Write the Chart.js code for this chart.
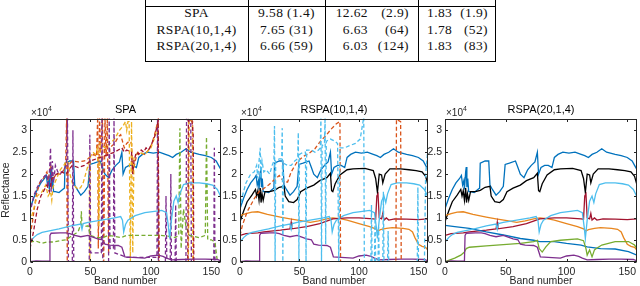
<!DOCTYPE html>
<html><head><meta charset="utf-8">
<script src="https://cdn.jsdelivr.net/npm/chart.js@4.4.0/dist/chart.umd.min.js"></script>
<style>
html,body{margin:0;padding:0;width:640px;height:286px;overflow:hidden;background:#fff;}
.tbl{position:absolute;font-family:'Liberation Serif','Times New Roman',serif;font-size:13.5px;letter-spacing:0.4px;color:#111;white-space:nowrap;line-height:16px;}
.hl{position:absolute;height:1px;background:#000;}
.vl{position:absolute;width:1px;background:#000;}
.ttl{position:absolute;font-family:'Liberation Sans',Arial,sans-serif;font-size:11px;line-height:14px;color:#000;text-align:center;white-space:nowrap;}
.exp{position:absolute;font-family:'Liberation Sans',Arial,sans-serif;font-size:10px;line-height:12px;color:#262626;white-space:nowrap;}
.exp sup{font-size:7px;position:relative;top:-1px;}
canvas{position:absolute;}
</style></head><body>
<div id="table"></div>
<canvas id="c1"></canvas><canvas id="c2"></canvas><canvas id="c3"></canvas>
<div id="titles"></div>
<script>
// ---------- table data ----------
const methods = ['SPA', 'RSPA(10,1,4)', 'RSPA(20,1,4)'];
const col1Val = ['9.58', '7.65', '6.66'];
const col1Par = ['(1.4)', '(31)', '(59)'];
const col2Val = ['12.62', '6.63', '6.03'];
const col2Par = ['(2.9)', '(64)', '(124)'];
const col3Val = ['1.83', '1.78', '1.83'];
const col3Par = ['(1.9)', '(52)', '(83)'];

// ---------- chart data (band number, reflectance x 10^4) ----------
const plotTitles = ['SPA', 'RSPA(10,1,4)', 'RSPA(20,1,4)'];
const xTicks = [0, 50, 100, 150];
const yTicks = [0, 0.5, 1, 1.5, 2, 2.5, 3];
const yTickLabels = ['0', '0.5', '1', '1.5', '2', '2.5', '3'];
const xAxisTitle = 'Band number';
const yAxisTitle = 'Reflectance';

const trueBlue = [[0,1.21],[3,1.45],[6,1.65],[9,1.8],[12,1.9],[13.5,1.97],[14.5,1.75],[15.5,1.85],[16,1.65],[17,2.05],[17.5,2.16],[18,1.7],[18.7,1.9],[19.5,1.6],[21,1.6],[24,1.58],[27,1.65],[28.5,1.68],[29,2.25],[33,2.3],[36,2.3],[37,1.75],[39,1.65],[42,1.52],[45,1.6],[48,1.72],[49.5,2.22],[53,2.25],[58,2.3],[60,2.15],[62,2.0],[65,1.92],[68,2.1],[71,2.2],[74,2.28],[76,2.5],[77,2.0],[79,2.15],[82,2.2],[85,2.2],[88,2.15],[90,2.38],[93,2.45],[97,2.5],[102,2.48],[107,2.5],[112,2.45],[115,2.42],[118,2.38],[121,2.45],[125,2.5],[129,2.58],[133,2.5],[140,2.45],[145,2.42],[150,2.38],[154,2.3],[156,2.2],[158,2.1]];
const trueBlack = [[0,0.91],[3,1.15],[6,1.37],[10,1.52],[13,1.65],[14,1.5],[15,1.62],[16,1.4],[17,1.68],[17.7,1.35],[18.5,1.55],[19.5,1.4],[21,1.6],[25,1.6],[29,1.63],[33,1.7],[37,1.72],[38,1.5],[41,1.37],[45,1.35],[48,1.42],[51,1.6],[56,1.68],[62,1.75],[67,1.85],[73,1.92],[76,2.02],[77,1.62],[78,1.6],[80,1.78],[84,1.98],[90,2.1],[95,2.12],[105,2.13],[112,2.08],[114,1.9],[115.5,1.58],[117,2.0],[119,1.98],[120,1.8],[122,2.0],[126,2.12],[135,2.12],[142,2.1],[148,2.08],[153,2.05],[156,1.95],[158,1.75]];
const trueLightBlue = [[0,0.45],[3,0.55],[6,0.62],[10,0.67],[15,0.7],[24,0.75],[34,0.82],[42,0.86],[43,0.74],[44,0.87],[48,0.9],[59,0.95],[70,1.0],[75,1.03],[76.5,0.95],[77.5,0.68],[79,0.85],[81,0.95],[87,1.05],[95,1.12],[103,1.15],[109,1.17],[113,1.12],[114.5,0.8],[115.5,0.53],[117,0.95],[119,1.38],[121,1.5],[122.5,1.35],[124,1.55],[127,1.76],[132,1.8],[140,1.8],[146,1.78],[151,1.75],[155,1.65],[158,1.48]];
const trueOrange = [[0,1.05],[5,1.1],[10,1.13],[15,1.14],[23,1.08],[34,1.02],[42,0.98],[51,0.94],[59,0.9],[66,0.93],[73,0.98],[78,1.0],[85,0.98],[90,0.95],[100,0.87],[109,0.8],[114,0.75],[116,0.7],[118,0.73],[123,0.76],[128,0.78],[137,0.76],[142,0.74],[145,0.68],[147,0.55],[150,0.4],[153,0.35],[156,0.33],[158,0.26]];
const trueDarkRed = [[0,0.6],[5,0.64],[15,0.66],[20,0.68],[34,0.72],[42,0.75],[43,0.9],[43.5,0.75],[56,0.8],[67,0.87],[74,0.94],[78,0.98],[90,1.0],[100,1.0],[112,0.98],[114,0.97],[115,1.5],[116,1.55],[117,1.0],[119,0.98],[120,1.1],[121,0.95],[123,1.0],[125,0.95],[130,0.98],[140,0.97],[150,0.96],[158,0.98]];
const truePurple = [[0,0.0],[5,0.02],[10,0.01],[16,0.02],[16.5,0.6],[17.5,0.65],[25,0.66],[30,0.66],[33,0.64],[37,0.6],[42,0.57],[48,0.6],[52,0.56],[56,0.52],[60,0.5],[62,0.4],[66,0.38],[73,0.37],[76,0.33],[77.5,0.2],[78.5,0.11],[85,0.1],[95,0.08],[100,0.13],[106,0.15],[110,0.12],[113,0.08],[117,0.04],[125,0.05],[135,0.06],[145,0.06],[155,0.05],[158,0.02]];

// SPA estimates (dashed)
const spaOrange = [[0,0.6],[2,0.9],[5,1.5],[8,1.8],[11,1.9],[14,2.05],[15,1.85],[17,2.2],[19,1.9],[22,2.0],[26,2.0],[28,2.1],[29.5,2.2],[30.3,3.3],[30.8,0],[31.5,2.2],[35,2.3],[40,2.28],[45,2.3],[48,2.35],[50,2.4],[53,2.45],[55,2.4],[56,3.3],[56.5,0.3],[57.5,3.3],[58.5,2.5],[60,3.3],[61,0],[62,3.3],[63,2.4],[64,3.3],[65,0.2],[66,2.6],[70,2.7],[73,2.85],[75,2.9],[78,2.6],[80,2.7],[82,2.75],[84,2.7],[85,2.0],[87,2.3],[89,2.5],[92,2.48],[95,2.45],[98,2.55],[101,2.7],[104,3.0],[106,3.25],[106.5,0],[131,0],[131.5,3.25],[134.5,3.2],[135,0],[158,0]];
const spaYellow = [[0,0.9],[3,1.2],[6,1.5],[10,1.6],[13,1.75],[15,1.5],[17,1.6],[18,1.4],[19,1.7],[22,1.9],[25,2.1],[28,2.2],[30,2.3],[32,2.25],[33,2.0],[35,1.8],[38,1.7],[40,1.65],[42,1.7],[44,1.8],[46,2.0],[48,2.2],[49,2.3],[49.5,0],[50,2.4],[52,2.5],[54,2.45],[56,2.6],[57,0.8],[58,2.7],[62,2.6],[66,2.7],[70,2.8],[74,3.0],[77,3.1],[79,3.2],[80,3.0],[81,3.2],[82,3.2],[83,0],[84,3.2],[85,0.2],[86,2.4],[88,2.45],[90,2.5],[95,2.45],[100,2.6],[104,2.9],[106,3.15],[106.5,0],[131,0],[131.3,3.25],[134.3,3.2],[134.8,0],[158,0]];
const spaPurple = [[0,1.1],[3,1.5],[6,1.7],[9,1.85],[12,1.95],[14,2.0],[15,1.7],[16,2.0],[17,2.6],[17.5,1.6],[18.5,2.3],[19.5,1.8],[21,2.2],[23,2.05],[25,2.0],[28,2.1],[30,2.2],[31,3.3],[31.8,0],[35,0],[35.5,3.0],[36.2,0],[49,0],[49.5,2.9],[50.2,0.2],[59,0.2],[59.5,3.3],[60.2,0],[65,0],[65.5,3.3],[66.2,0.3],[69,0.3],[69.5,3.3],[70.2,0.2],[80,0.1],[105,0.1],[105.5,3.25],[106.2,0],[112,0],[112.5,1.5],[113.2,0],[116,0],[116.5,2.0],[117,0],[120,0],[120.5,1.3],[121,0],[129,0],[129.5,3.25],[133,3.2],[133.5,0],[152,0],[152.5,2.6],[153,0],[158,0]];
const spaGreen = [[0,0.45],[5,0.47],[10,0.42],[14,0.45],[20,0.45],[25,0.48],[30,0.5],[34,0.58],[38,0.65],[40,0.7],[42,0.85],[42.5,1.15],[43,0.8],[45,0.8],[48,0.82],[50,0.6],[55,0.55],[60,0.55],[65,0.6],[70,0.58],[75,0.55],[80,0.6],[85,0.6],[95,0.6],[108,0.6],[115,0.58],[120,0.55],[123,0.6],[124,3.05],[125,0.3],[127,1.2],[129,0.8],[132,0.6],[140,0.55],[145,0.6],[146,2.85],[147,0.5],[150,0.5],[153,0.45],[155,0],[158,0]];
const spaDarkRed = [[0,0.3],[3,0.7],[6,1.2],[9,1.5],[12,1.65],[14,1.75],[16,1.6],[18,1.9],[20,1.95],[22,2.0],[26,2.05],[30,2.0],[32,2.1],[35,2.2],[40,2.15],[45,2.2],[50,2.3],[55,2.35],[60,2.4],[65,2.45],[70,2.5],[73,2.55],[76,2.6],[78,2.5],[80,2.55],[84,2.5],[85,2.0],[86,2.3],[88,2.5],[90,2.45],[92,2.55],[94,2.5],[96,2.6],[98,2.55],[100,2.65],[103,2.85],[106,3.2],[106.8,0],[130.5,0],[131,3.25],[134,3.22],[135,2.9],[135.5,0],[158,0]];

// RSPA(10,1,4) estimates (dashed)
const rspa10LightBlue = [[0,1.2],[2,1.5],[5,1.8],[9,2.0],[12,2.05],[14,2.2],[15,1.9],[16,2.3],[17,2.6],[17.5,1.9],[18.5,2.3],[20,2.05],[22,2.1],[25,2.0],[27,2.2],[28.5,2.3],[29,3.1],[29.5,0],[30,2.3],[33,2.35],[35,2.35],[35.5,3.05],[36,0],[36.5,2.25],[40,2.2],[43,2.2],[46,2.3],[48.5,2.35],[49,2.95],[49.5,0],[50,2.45],[53,2.5],[55,2.5],[55.5,0],[56,2.55],[60,2.55],[63,2.5],[66,2.55],[67.5,2.6],[68,3.3],[68.5,0],[69,2.65],[71,2.7],[71.5,3.3],[72,0.4],[72.5,2.75],[76,2.8],[80,2.75],[82,2.7],[83,0],[84,2.6],[88,2.6],[92,2.65],[97,2.7],[101,2.8],[104,3.3],[104.5,0],[110,0],[110.5,1.3],[111,0],[113,0],[113.5,1.0],[114,0],[116,0],[116.5,0.8],[117,0],[120,0],[120.5,1.6],[121,0],[124,0],[124.5,0.7],[125,0],[149,0],[149.5,1.7],[150,0],[155,0],[156,2.0],[158,2.6]];
const rspa10Orange = [[0,0.6],[2,0.83],[6,1.14],[12,1.44],[16,1.6],[24,1.75],[30,1.9],[33,1.97],[37,1.82],[40,1.82],[43,2.05],[48,2.28],[53,2.4],[58,2.47],[63,2.58],[67,2.73],[72.5,2.89],[77,3.04],[81,3.15],[84,3.2],[84.5,0],[131,0],[131.5,3.25],[135,3.2],[135.5,0],[158,0]];

// RSPA(20,1,4) estimates
const rspa20Blue = [[0,0.83],[8,0.8],[20,0.76],[34,0.68],[48,0.61],[62,0.53],[73,0.49],[78,0.46],[90,0.46],[100,0.42],[112,0.38],[117,0.34],[128,0.3],[140,0.29],[151,0.23],[158,0.15]];
const rspa20Green = [[0,0],[3,0.03],[8,0.08],[13,0.15],[16,0.22],[17.5,0.3],[20,0.33],[34,0.36],[48,0.39],[62,0.42],[73,0.46],[76,0.49],[77.5,0.3],[80,0.22],[83,0.34],[87,0.46],[95,0.49],[109,0.52],[114,0.48],[116,0.3],[117,0.15],[119,0.27],[121,0.11],[123,0.27],[124.5,0.3],[129,0.38],[140,0.46],[151,0.46],[156,0.38],[158,0.3]];

// ---------- colours ----------
const C = {blue:'#0072BD', orange:'#D95319', lightOrange:'#E8861E', yellow:'#EDB120', purple:'#7E2F8E', green:'#77AC30', lightBlue:'#4DBEEE', darkRed:'#A2142F', black:'#000000'};

// ---------- table ----------
(function(){
  const t = document.getElementById('table');
  const rowTop = [5, 21.5, 37.5];
  let h = '';
  methods.forEach((m,i)=>{
    const top = rowTop[i];
    h += `<div class="tbl" style="left:145px;width:103px;text-align:center;top:${top}px">${m}</div>`;
    h += `<div class="tbl" style="left:248px;width:77px;text-align:center;top:${top}px">${col1Val[i]} ${col1Par[i]}</div>`;
    h += `<div class="tbl" style="left:325px;width:43px;text-align:right;top:${top}px">${col2Val[i]}</div>`;
    h += `<div class="tbl" style="left:368px;width:41px;text-align:right;top:${top}px">${col2Par[i]}</div>`;
    h += `<div class="tbl" style="left:427px;top:${top}px">${col3Val[i]}</div>`;
    h += `<div class="tbl" style="left:448px;width:40px;text-align:right;top:${top}px">${col3Par[i]}</div>`;
  });
  h += '<div class="hl" style="left:145px;width:351px;top:6px"></div>';
  h += '<div class="hl" style="left:145px;width:351px;top:61px"></div>';
  [145,248,325,418,495].forEach(x=>{ h += `<div class="vl" style="left:${x}px;top:0;height:62px"></div>`; });
  t.innerHTML = h;
})();

// ---------- charts ----------
Chart.defaults.font.family = "'Liberation Sans', Arial, sans-serif";
Chart.defaults.font.size = 10.5;
Chart.defaults.color = '#262626';

const X_MAX = 158, Y_MAX = 3.27;
const CANVAS_TOP = 98, CANVAS_H = 192, YW = 30, PAD_R = 4;
const AREA_TOP = 118.5, AREA_BOTTOM = 261.7;

const framePlugin = {
  id: 'frame',
  afterDatasetsDraw(c) {
    const {ctx, chartArea: a, scales: {x, y}} = c;
    ctx.save();
    ctx.strokeStyle = '#262626';
    ctx.lineWidth = 1;
    const L = Math.round(a.left) + 0.5, R = Math.round(a.right) - 0.5, T = Math.round(a.top) + 0.5, B = Math.round(a.bottom) - 0.5;
    ctx.strokeRect(L, T, R - L, B - T);
    ctx.beginPath();
    xTicks.forEach(v => { const p = Math.round(x.getPixelForValue(v)) + 0.5; ctx.moveTo(p, B); ctx.lineTo(p, B - 2.5); ctx.moveTo(p, T); ctx.lineTo(p, T + 2.5); });
    yTicks.forEach(v => { const p = Math.round(y.getPixelForValue(v)) + 0.5; ctx.moveTo(L, p); ctx.lineTo(L + 2.5, p); ctx.moveTo(R, p); ctx.lineTo(R - 2.5, p); });
    ctx.stroke();
    ctx.restore();
  }
};

function ds(pairs, color, dashed) {
  return {data: pairs.map(([x, y]) => ({x, y})), borderColor: color, borderWidth: 1.3,
          borderDash: dashed ? [4, 2.5] : [], pointRadius: 0, fill: false, tension: 0};
}

function makeChart(id, areaLeft, areaRight, list, showYTitle, title) {
  const cv = document.getElementById(id);
  const left = areaLeft - YW;
  const w = Math.round(areaRight - areaLeft + YW + PAD_R);
  cv.width = w; cv.height = CANVAS_H;
  cv.style.left = left + 'px'; cv.style.top = CANVAS_TOP + 'px';
  cv.style.width = w + 'px'; cv.style.height = CANVAS_H + 'px';
  const datasets = list.map((d, i) => Object.assign(d, {order: -i}));
  new Chart(cv, {
    type: 'line',
    data: {datasets},
    plugins: [framePlugin],
    options: {
      responsive: false, animation: false, devicePixelRatio: 1,
      layout: {padding: {left: 0, right: w - (areaRight - left), top: AREA_TOP - CANVAS_TOP, bottom: 0}},
      plugins: {legend: {display: false}, tooltip: {enabled: false}},
      scales: {
        x: {type: 'linear', min: 0, max: X_MAX,
            grid: {display: false, drawTicks: false}, border: {display: false},
            afterBuildTicks: s => { s.ticks = xTicks.map(v => ({value: v})); },
            afterFit: s => { s.height = CANVAS_TOP + CANVAS_H - AREA_BOTTOM; },
            ticks: {padding: 3.7, maxRotation: 0, autoSkip: false, callback: v => String(v)},
            title: {display: true, text: xAxisTitle, color: '#262626', font: {size: 10.5}, padding: {top: 0, bottom: 2.7}}},
        y: {type: 'linear', min: 0, max: Y_MAX,
            grid: {display: false, drawTicks: false}, border: {display: false},
            afterBuildTicks: s => { s.ticks = yTicks.map(v => ({value: v})); },
            afterFit: s => { s.width = YW; },
            ticks: {padding: 3, autoSkip: false, callback: v => yTickLabels[yTicks.indexOf(v)] ?? ''},
            title: {display: showYTitle, text: yAxisTitle, color: '#262626', font: {size: 10.5}, padding: {top: 0, bottom: 0}}}
      }
    }
  });
  const tt = document.getElementById('titles');
  const cx = (areaLeft + areaRight) / 2;
  tt.insertAdjacentHTML('beforeend', `<div class="ttl" style="left:${cx - 60}px;width:120px;top:102px">${title}</div>`);
  tt.insertAdjacentHTML('beforeend', `<div class="exp" style="left:${areaLeft + 1}px;top:104px">×10<sup>4</sup></div>`);
}

makeChart('c1', 30, 221, [
  ds(trueBlue, C.blue, false),
  ds(spaOrange, C.orange, true),
  ds(spaYellow, C.yellow, true),
  ds(spaPurple, C.purple, true),
  ds(spaGreen, C.green, true),
  ds(trueLightBlue, C.lightBlue, false),
  ds(spaDarkRed, C.darkRed, true),
  ds(truePurple, C.purple, false)
], true, plotTitles[0]);

makeChart('c2', 240, 428, [
  ds(trueBlue, C.blue, false),
  ds(trueBlack, C.black, false),
  ds(trueOrange, C.lightOrange, false),
  ds(trueDarkRed, C.darkRed, false),
  ds(truePurple, C.purple, false),
  ds(trueLightBlue, C.lightBlue, false),
  ds(rspa10Orange, C.orange, true),
  ds(rspa10LightBlue, C.lightBlue, true)
], false, plotTitles[1]);

makeChart('c3', 445, 637, [
  ds(trueBlue, C.blue, false),
  ds(trueBlack, C.black, false),
  ds(trueOrange, C.lightOrange, false),
  ds(trueDarkRed, C.darkRed, false),
  ds(rspa20Blue, C.blue, false),
  ds(trueLightBlue, C.lightBlue, false),
  ds(rspa20Green, C.green, false),
  ds(truePurple, C.purple, false)
], false, plotTitles[2]);
</script>
</body></html>
